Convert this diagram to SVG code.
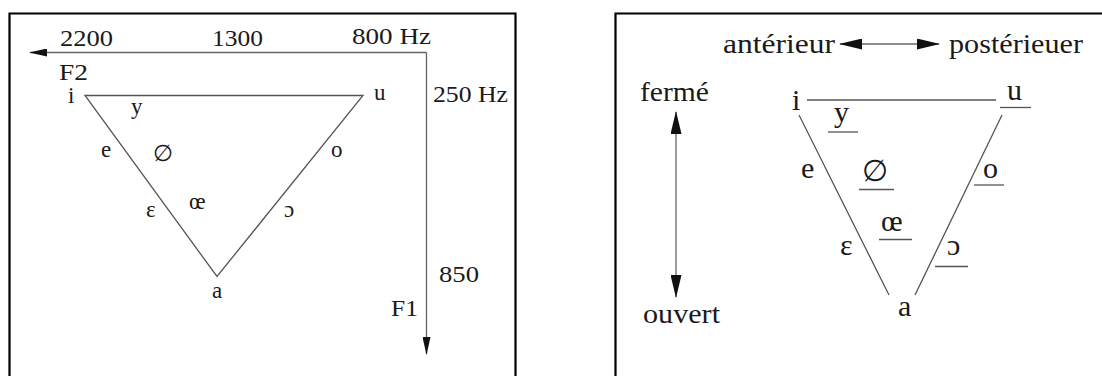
<svg xmlns="http://www.w3.org/2000/svg" width="1102" height="376" viewBox="0 0 1102 376">
  <style>
    .frame { fill: none; stroke: #000; stroke-width: 2.2; }
    .edge { fill: none; stroke: #555; stroke-width: 1.3; }
    .axis { fill: none; stroke: #666; stroke-width: 1.3; }
    .uline { fill: none; stroke: #555; stroke-width: 1.3; }
    text { font-family: "Liberation Serif", "DejaVu Serif", serif; fill: #1a1a1a; }
    .l { font-size: 23px; }
    .r { font-size: 28px; }
    .rv { font-size: 30px; }
  </style>
  <defs>
    <marker id="headS" markerUnits="userSpaceOnUse" markerWidth="18" markerHeight="8" refX="17" refY="4" orient="auto-start-reverse">
      <path d="M0,0 L18,4 L0,8 Z" fill="#111"/>
    </marker>
    <marker id="headL" markerUnits="userSpaceOnUse" markerWidth="23" markerHeight="11" refX="22" refY="5.5" orient="auto-start-reverse">
      <path d="M0,0 L23,5.5 L0,11 Z" fill="#111"/>
    </marker>
  </defs>

  <!-- left panel: formant chart F1 / F2 -->
  <g id="panel-formants">
    <path class="frame" d="M9.5,380 V13.5 H515.5 V380"/>
    <g id="connectors-formants">
      <path class="axis" d="M426.5,52.5 H30" marker-end="url(#headS)"/>
      <path class="axis" d="M426.5,52.5 V354" marker-end="url(#headS)"/>
      <path class="edge" d="M85,95.5 H363 L217,276.5 Z"/>
    </g>
    <g id="scale-labels" class="l">
      <text x="60" y="46" textLength="53" lengthAdjust="spacingAndGlyphs">2200</text>
      <text x="212" y="46" textLength="51" lengthAdjust="spacingAndGlyphs">1300</text>
      <text x="352" y="44" textLength="79" lengthAdjust="spacingAndGlyphs">800 Hz</text>
      <text x="59" y="80" textLength="29" lengthAdjust="spacingAndGlyphs">F2</text>
      <text x="433" y="102" textLength="75" lengthAdjust="spacingAndGlyphs">250 Hz</text>
      <text x="439" y="282" textLength="40" lengthAdjust="spacingAndGlyphs">850</text>
      <text x="391" y="316" textLength="27" lengthAdjust="spacingAndGlyphs">F1</text>
    </g>
    <g id="vowels-formants" class="l">
      <text id="f-i" x="68" y="103">i</text>
      <text id="f-u" x="374" y="100">u</text>
      <text id="f-y" x="131" y="114">y</text>
      <text id="f-e" x="101" y="157">e</text>
      <text id="f-oe-slash" x="163" y="161" text-anchor="middle">∅</text>
      <text id="f-o" x="331" y="157">o</text>
      <text id="f-eps" x="146" y="217">ε</text>
      <text id="f-oe" x="189" y="209">œ</text>
      <text id="f-open-o" x="284" y="217">ɔ</text>
      <text id="f-a" x="212" y="298">a</text>
    </g>
  </g>

  <!-- right panel: articulatory trapezoid -->
  <g id="panel-articulation">
    <path class="frame" d="M615.5,380 V13.5 H1110"/>
    <g id="connectors-articulation">
      <path class="axis" d="M840,44 H939" marker-start="url(#headL)" marker-end="url(#headL)"/>
      <path class="axis" d="M676,112 V297" marker-start="url(#headL)" marker-end="url(#headL)"/>
      <path class="edge" d="M807,100 H996"/>
      <path class="edge" d="M799,115 L889,295"/>
      <path class="edge" d="M1002,115 L915,295"/>
    </g>
    <g id="axis-labels" class="r">
      <text x="723" y="53" textLength="112" lengthAdjust="spacingAndGlyphs">antérieur</text>
      <text x="949" y="53" textLength="134" lengthAdjust="spacingAndGlyphs">postérieuer</text>
      <text x="640" y="101" textLength="69" lengthAdjust="spacingAndGlyphs">fermé</text>
      <text x="643" y="323" textLength="77" lengthAdjust="spacingAndGlyphs">ouvert</text>
    </g>
    <g id="vowels-articulation" class="rv">
      <text id="a-i" x="792" y="110">i</text>
      <text id="a-u" x="1007" y="100">u</text>
      <text id="a-y" x="834" y="122">y</text>
      <text id="a-e" x="801" y="178">e</text>
      <text id="a-oe-slash" x="875" y="181" text-anchor="middle">∅</text>
      <text id="a-o" x="983" y="178">o</text>
      <text id="a-oe" x="881" y="231">œ</text>
      <text id="a-eps" x="840" y="255">ε</text>
      <text id="a-open-o" x="947" y="255">ɔ</text>
      <text id="a-a" x="898" y="316">a</text>
    </g>
    <g id="rounding-marks">
      <path class="uline" d="M1000,107.5 H1031"/>
      <path class="uline" d="M828,132 H858"/>
      <path class="uline" d="M859,189.5 H894"/>
      <path class="uline" d="M974,185 H1004"/>
      <path class="uline" d="M879,239.5 H912"/>
      <path class="uline" d="M935,266.5 H968"/>
    </g>
  </g>
</svg>
